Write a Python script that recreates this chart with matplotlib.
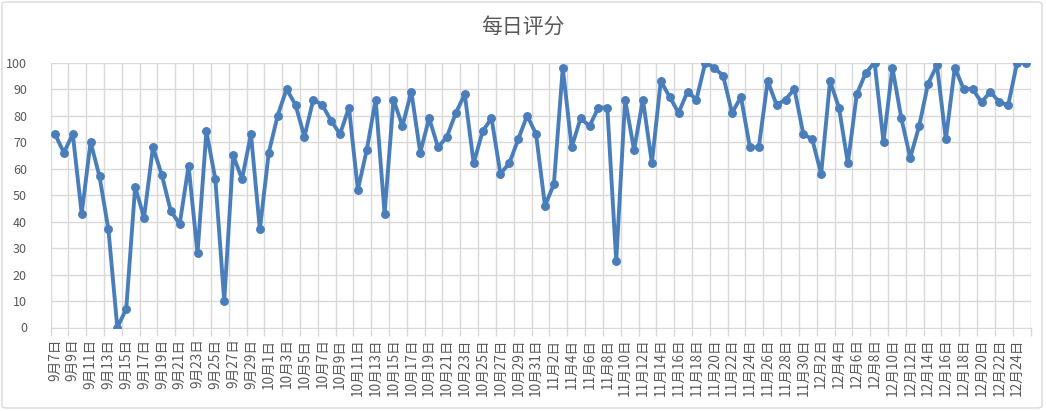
import matplotlib
matplotlib.use("Agg")
import matplotlib.pyplot as plt
from matplotlib.patches import FancyBboxPatch
import numpy as np

plt.rcParams['font.family'] = ['Noto Sans CJK SC', 'DejaVu Sans']

title = "每日评分"

# months and day ranges of the category axis
months = [9, 10, 11, 12]
first_days = [7, 1, 1, 1]
last_days = [30, 31, 30, 25]
categories = [f"{m}月{d}日" for m, a, b in zip(months, first_days, last_days)
              for d in range(a, b + 1)]

sep_scores = [73, 66, 73, 43, 70, 57, 37, 0, 7, 53, 41.5, 68, 57.5, 44, 39, 61,
              28, 74, 56, 10, 65, 56, 73, 37]
oct_scores = [66, 80, 90, 84, 72, 86, 84, 78, 73, 83, 52, 67, 86, 43, 86, 76,
              89, 66, 79, 68, 72, 81, 88, 62, 74, 79, 58, 62, 71, 80, 73]
nov_scores = [46, 54, 98, 68, 79, 76, 83, 83, 25, 86, 67, 86, 62, 93, 87, 81,
              89, 86, 100, 98, 95, 81, 87, 68, 68, 93, 84, 86, 90, 73]
dec_scores = [71, 58, 93, 83, 62, 88, 96, 100, 70, 98, 79, 64, 76, 92, 99, 71,
              98, 90, 90, 85, 89, 85, 84, 100, 100]
scores = sep_scores + oct_scores + nov_scores + dec_scores

y_ticks = list(range(0, 101, 10))

W, H = 1046, 411
fig = plt.figure(figsize=(W / 100, H / 100), dpi=100)
ax = fig.add_axes([50.5 / W, 1 - 327.5 / H, 980 / W, 265 / H])

x = np.arange(len(scores))
ax.plot(x, scores, color='#4a7ebb', linewidth=2.8, marker='o', markersize=5.4,
        solid_joinstyle='round', zorder=3)

ax.set_xlim(-0.5, len(scores) - 0.5)
ax.set_ylim(0, 100)
ax.set_yticks(y_ticks)
ax.set_yticklabels([str(v) for v in y_ticks])

ax.set_xticks(x[::2])
ax.set_xticklabels(categories[::2], rotation=90, va='top', ha='center')
ax.set_xticks(np.arange(-0.5, len(scores), 2), minor=True)

grid_c = '#d9d9d9'
ax.grid(True, which='major', axis='y', color=grid_c, linewidth=1)
ax.grid(True, which='minor', axis='x', color=grid_c, linewidth=1)
ax.tick_params(axis='x', which='major', length=0, labelsize=9.8, colors='#595959', pad=8)
ax.tick_params(axis='x', which='minor', length=6, color=grid_c, width=1)
ax.tick_params(axis='y', length=0, labelsize=9, colors='#595959', pad=17)
for lab in ax.get_yticklabels():
    lab.set_horizontalalignment('right')
for s in ['top', 'right', 'left']:
    ax.spines[s].set_visible(False)
ax.spines['bottom'].set_color(grid_c)
ax.set_axisbelow(True)

fig.text(523 / W, 1 - 27 / H, title, ha='center', va='center',
         fontsize=15, color='#595959')

border = FancyBboxPatch((2 / W, 3 / H), 1040 / W, 406 / H,
                        boxstyle='round,pad=0,rounding_size=0.005',
                        transform=fig.transFigure, fill=False,
                        edgecolor='#d9d9d9', linewidth=1)
fig.patches.append(border)

fig.savefig('out.png', dpi=100)
